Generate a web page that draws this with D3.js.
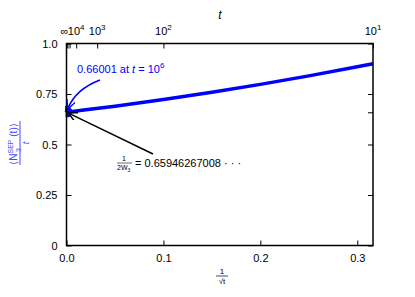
<!DOCTYPE html>
<html>
<head>
<meta charset="utf-8">
<script src="https://cdn.jsdelivr.net/npm/d3@7"></script>
<style>
body { margin: 0; background: white; }
text { font-family: "Liberation Sans", Arial, sans-serif; }
</style>
</head>
<body>
<div id="chart"></div>
<script>
// data: x = 1/sqrt(t), y = <N3 SEP(t)>/t
const xVals = [0, 0.0005, 0.001, 0.0015, 0.002, 0.0025, 0.003, 0.0035, 0.004, 0.01, 0.02, 0.05, 0.1, 0.15, 0.2, 0.25, 0.3, 0.3162];
const yVals = [0.660, 0.690, 0.635, 0.688, 0.638, 0.682, 0.645, 0.676, 0.662, 0.6657, 0.6716, 0.6898, 0.7227, 0.7586, 0.7976, 0.8396, 0.8847, 0.8999];
const bottomTicks = [0.0, 0.1, 0.2, 0.3];
const leftTicks = [0, 0.25, 0.5, 0.75, 1.0];
const leftLabels = ["0", "0.25", "0.5", "0.75", "1.0"];
const rightTicks = [0, 0.25, 0.5, 0.659462670, 0.75, 1.0];
const topT = [Infinity, 1e6, 1e5, 1e4, 1e3, 1e2, 1e1];
const topLabels = [["∞", ""], ["", ""], ["", ""], ["10", "4"], ["10", "3"], ["10", "2"], ["10", "1"]];
const limit = 0.65946267008;

const width = 415, height = 297;
const margin = {left: 66.5, right: 42, top: 43.5, bottom: 51.5};

const svg = d3.select('#chart')
    .append('svg')
    .attr('width', width)
    .attr('height', height)
    .style('background-color', 'white');

const x = d3.scaleLinear().domain([0, 1 / Math.sqrt(10)]).range([margin.left, width - margin.right]);
const y = d3.scaleLinear().domain([0, 1]).range([height - margin.bottom, margin.top]);

const defs = svg.append('defs');
const marker = (id, col) => defs.append('marker')
    .attr('id', id)
    .attr('viewBox', '0 0 10 10')
    .attr('refX', 9).attr('refY', 5)
    .attr('markerWidth', 9).attr('markerHeight', 9)
    .attr('markerUnits', 'userSpaceOnUse')
    .attr('orient', 'auto')
    .append('path')
    .attr('d', 'M0,0 L10,5 L0,10')
    .attr('fill', 'none')
    .attr('stroke', col)
    .attr('stroke-width', 1.6);
marker('arrB', 'blue');
marker('arrK', 'black');

// curve
const pts = xVals.map((v, i) => [v, yVals[i]]);
svg.append('path')
    .datum(pts)
    .attr('fill', 'none')
    .attr('stroke', 'blue')
    .attr('stroke-width', 3.5)
    .attr('d', d3.line().x(d => x(d[0])).y(d => y(d[1])));

// axes (ticks inside)
const tickFont = 11;
const gBottom = svg.append('g').attr('transform', `translate(0,${y(0)})`)
    .call(d3.axisBottom(x).tickValues(bottomTicks).tickSizeInner(-5).tickSizeOuter(0).tickPadding(9).tickFormat(d3.format('.1f')));
const gLeft = svg.append('g').attr('transform', `translate(${x(0)},0)`)
    .call(d3.axisLeft(y).tickValues(leftTicks).tickSizeInner(-5).tickSizeOuter(0).tickPadding(9).tickFormat((d, i) => leftLabels[i]));
const gRight = svg.append('g').attr('transform', `translate(${x.range()[1]},0)`)
    .call(d3.axisRight(y).tickValues(rightTicks).tickSizeInner(-5).tickSizeOuter(0).tickFormat(''));
const gTop = svg.append('g').attr('transform', `translate(0,${y(1)})`)
    .call(d3.axisTop(x).tickValues(topT.map(t => 1 / Math.sqrt(t))).tickSizeInner(-5).tickSizeOuter(0).tickFormat(''));

[gBottom, gLeft, gRight, gTop].forEach(g => {
    g.select('.domain').remove();
    g.selectAll('line').attr('stroke', '#000').attr('stroke-width', 1);
    g.selectAll('text').attr('font-size', tickFont).attr('fill', '#000')
        .style('font-family', '"Liberation Sans", Arial, sans-serif');
});

// frame
svg.append('rect')
    .attr('x', x.range()[0]).attr('y', y.range()[1])
    .attr('width', x.range()[1] - x.range()[0])
    .attr('height', y.range()[0] - y.range()[1])
    .attr('fill', 'none').attr('stroke', '#000').attr('stroke-width', 1.5);

// top tick labels
topT.forEach((t, i) => {
    const [base, sup] = topLabels[i];
    if (!base) return;
    let xx = x(1 / Math.sqrt(t));
    if (t === Infinity) xx -= 2;
    const tx = svg.append('text')
        .attr('x', xx).attr('y', 35)
        .attr('text-anchor', 'middle')
        .attr('font-size', tickFont);
    tx.append('tspan').text(base);
    if (sup) tx.append('tspan').attr('font-size', 8).attr('dy', -5).text(sup);
});

// axis labels
svg.append('text').attr('x', 220).attr('y', 19).attr('text-anchor', 'middle')
    .attr('font-size', 12).attr('font-style', 'italic').text('t');

const xl = svg.append('g').attr('transform', 'translate(222,0)');
xl.append('text').attr('x', 0).attr('y', 274).attr('text-anchor', 'middle').attr('font-size', 8).text('1');
xl.append('line').attr('x1', -6).attr('x2', 6).attr('y1', 276).attr('y2', 276).attr('stroke', '#000').attr('stroke-width', 0.7);
xl.append('text').attr('x', 0).attr('y', 284).attr('text-anchor', 'middle').attr('font-size', 8).text('√t');

const yl = svg.append('g').attr('transform', 'translate(20,143) rotate(-90)').attr('fill', '#4a4aff');
const num = yl.append('text').attr('x', -1).attr('y', -3).attr('text-anchor', 'middle').attr('font-size', 10);
num.append('tspan').text('⟨N');
num.append('tspan').attr('font-size', 7).attr('dy', -4).text('SEP');
num.append('tspan').attr('font-size', 10).attr('dy', 4).text(' (t)⟩');
yl.append('text').attr('x', -9).attr('y', 0.5).attr('font-size', 7).text('3');
yl.append('line').attr('x1', -22).attr('x2', 22).attr('y1', 0).attr('y2', 0).attr('stroke', '#4a4aff').attr('stroke-width', 1);
yl.append('text').attr('x', 0).attr('y', 9).attr('text-anchor', 'middle').attr('font-size', 9).attr('font-style', 'italic').text('t');

// blue annotation
const ba = svg.append('text').attr('x', 77).attr('y', 73).attr('fill', 'blue').attr('font-size', 11);
ba.append('tspan').text('0.66001 at ');
ba.append('tspan').attr('font-style', 'italic').text('t');
ba.append('tspan').text(' = 10');
ba.append('tspan').attr('font-size', 8).attr('dy', -5).text('6');

const bx = x(0) + 1.5, by = y(0.66) - 4;
svg.append('path')
    .attr('d', `M100,80 Q76,89 ${bx},${by}`)
    .attr('fill', 'none').attr('stroke', 'blue').attr('stroke-width', 1.6)
    .attr('marker-end', 'url(#arrB)');

// black annotation
svg.append('line')
    .attr('x1', 153).attr('y1', 154)
    .attr('x2', x(0) + 2.5).attr('y2', y(limit) + 1)
    .attr('stroke', '#000').attr('stroke-width', 1.4)
    .attr('marker-end', 'url(#arrK)');

const fa = svg.append('g');
fa.append('text').attr('x', 124).attr('y', 161).attr('text-anchor', 'middle').attr('font-size', 7).text('1');
fa.append('line').attr('x1', 117).attr('x2', 132).attr('y1', 163).attr('y2', 163).attr('stroke', '#000').attr('stroke-width', 0.6);
const den = fa.append('text').attr('x', 117).attr('y', 170).attr('font-size', 7);
den.append('tspan').text('2W');
den.append('tspan').attr('font-size', 5).attr('dy', 1.5).text('3');
svg.append('text').attr('x', 135).attr('y', 167).attr('font-size', 11)
    .text('= 0.65946267008 · · ·');
</script>
</body>
</html>
